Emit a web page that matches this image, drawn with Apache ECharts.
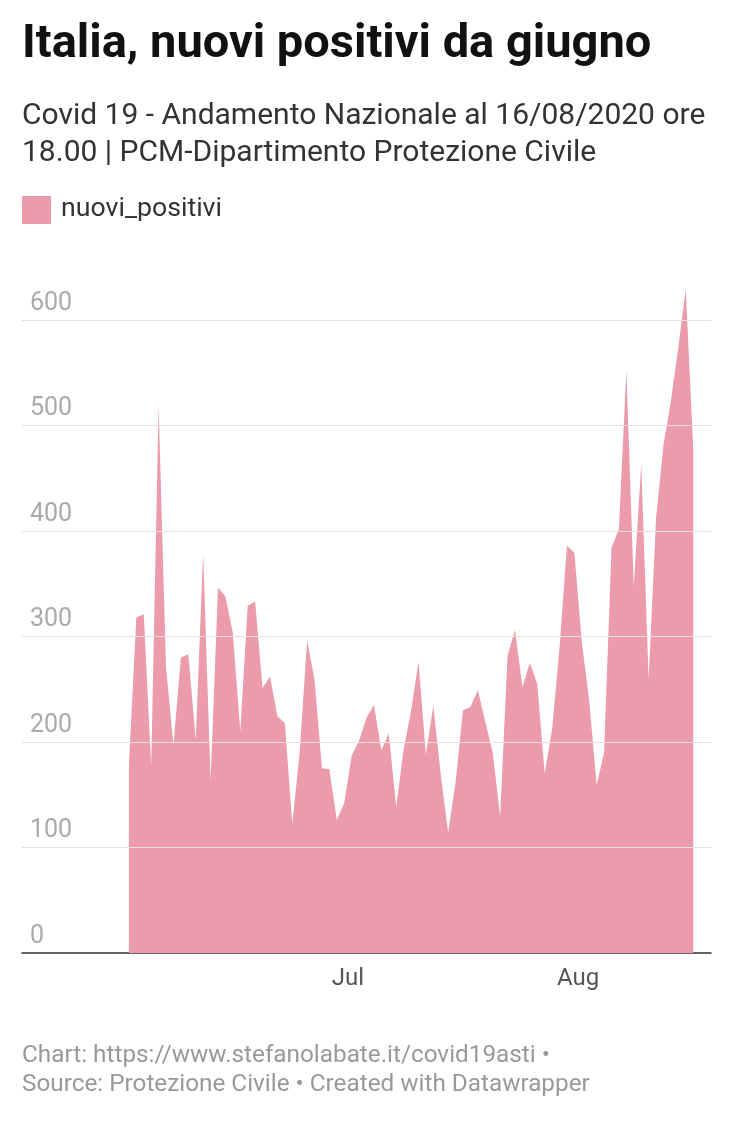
<!DOCTYPE html>
<html><head><meta charset="utf-8">
<script src="https://cdn.jsdelivr.net/npm/echarts@6/dist/echarts.min.js"></script>
<style>html,body{margin:0;padding:0;background:#fff}#c{width:740px;height:1132px}</style>
</head><body><div id="c"></div>
<script>
const dates = ['06-01','06-02','06-03','06-04','06-05','06-06','06-07','06-08','06-09','06-10','06-11','06-12','06-13','06-14','06-15','06-16','06-17','06-18','06-19','06-20','06-21','06-22','06-23','06-24','06-25','06-26','06-27','06-28','06-29','06-30','07-01','07-02','07-03','07-04','07-05','07-06','07-07','07-08','07-09','07-10','07-11','07-12','07-13','07-14','07-15','07-16','07-17','07-18','07-19','07-20','07-21','07-22','07-23','07-24','07-25','07-26','07-27','07-28','07-29','07-30','07-31','08-01','08-02','08-03','08-04','08-05','08-06','08-07','08-08','08-09','08-10','08-11','08-12','08-13','08-14','08-15','08-16'];
const nuoviPositivi = [178,318,321,177,518,270,197,280,283,202,379,163,346,338,303,210,329,333,251,262,224,218,122,190,296,259,175,174,126,142,187,201,223,235,192,208,138,193,229,276,188,234,169,114,162,230,233,249,219,190,129,282,306,252,275,255,170,212,289,386,379,295,239,159,190,384,402,552,347,463,259,412,481,523,574,629,479];
const monthTicks = [{day:29.5,label:'Jul'},{day:60.5,label:'Aug'}];
const yTicks = [0,100,200,300,400,500,600];
const seriesData = nuoviPositivi.map((v,i)=>[i,v]);
const chart = echarts.init(document.getElementById('c'));
const font = 'Roboto, sans-serif';
chart.setOption({
  animation:false,
  textStyle:{fontFamily:font},
  graphic:[
    {type:'text',left:22,top:22,style:{text:'Italia, nuovi positivi da giugno',font:'bold 47px Roboto, sans-serif',fill:'#111'}},
    {type:'text',left:22,top:98,style:{text:'Covid 19 - Andamento Nazionale al 16/08/2020 ore\n18.00 | PCM-Dipartimento Protezione Civile',font:'30px Roboto, sans-serif',fill:'#333',lineHeight:37}},
    {type:'rect',left:22,top:196,shape:{width:29,height:28},style:{fill:'#eb9ba9'}},
    {type:'text',left:61,top:196,style:{text:'nuovi_positivi',font:'26.7px Roboto, sans-serif',fill:'#333'}},
    {type:'text',left:22,top:1041,style:{text:'Chart: https://www.stefanolabate.it/covid19asti •\nSource: Protezione Civile • Created with Datawrapper',font:'24.3px Roboto, sans-serif',fill:'#999',lineHeight:29}}
  ],
  grid:{left:22,right:29,top:267,bottom:179},
  xAxis:{type:'value',min:-14.4,max:78.4,
    axisLine:{show:true,onZero:false,lineStyle:{color:'#333',width:1.5}},
    axisTick:{show:false},splitLine:{show:false},
    axisLabel:{customValues:monthTicks.map(t=>t.day),formatter:v=>{const t=monthTicks.find(m=>m.day===v);return t?t.label:'';},color:'#555',fontSize:24,margin:14}},
  yAxis:{type:'value',min:0,max:650,interval:50,
    axisLine:{show:false},axisTick:{show:false},splitLine:{show:false},
    axisLabel:{inside:true,formatter:v=>yTicks.includes(v)?String(v):'',color:'#aaa',fontSize:25,verticalAlign:'bottom',padding:[0,0,4,0]}},
  series:[{type:'line',data:seriesData,symbol:'none',lineStyle:{width:0},areaStyle:{color:'#eb9ba9',opacity:1},z:2,
    markLine:{silent:true,symbol:'none',label:{show:false},lineStyle:{color:'#e2e2e2',type:'solid',width:1},
      data:yTicks.filter(v=>v>0).map(v=>({yAxis:v}))}}]
});
</script></body></html>
